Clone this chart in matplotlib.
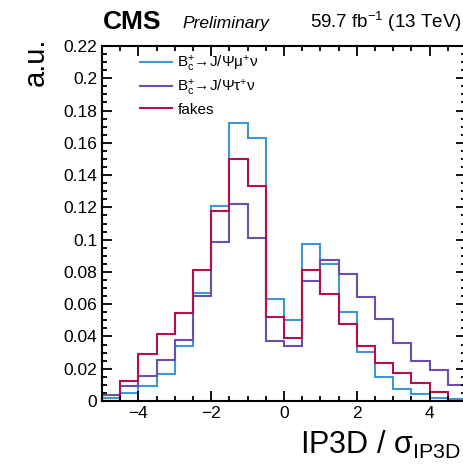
import numpy as np
import matplotlib
matplotlib.use('Agg')
import matplotlib.pyplot as plt
from matplotlib.ticker import MultipleLocator, FuncFormatter

plt.rcParams['font.family'] = ['Liberation Sans', 'DejaVu Sans']
plt.rcParams['mathtext.fontset'] = 'custom'
plt.rcParams['mathtext.rm'] = 'Liberation Sans'
plt.rcParams['mathtext.it'] = 'Liberation Sans:italic'
plt.rcParams['mathtext.bf'] = 'Liberation Sans:bold'

# bin edges of IP3D significance, 0.5 wide
bin_edges = np.arange(-5.0, 5.01, 0.5)

# normalised yields per bin
bc_mu = [0.002, 0.005, 0.009, 0.0165, 0.034, 0.067, 0.121, 0.172, 0.163, 0.063,
         0.050, 0.097, 0.085, 0.055, 0.0306, 0.0151, 0.0073, 0.0042, 0.002, 0.0012]
bc_tau = [0.004, 0.0093, 0.0157, 0.0254, 0.0378, 0.0653, 0.0988, 0.122, 0.101, 0.0374,
          0.0343, 0.0746, 0.0874, 0.079, 0.0643, 0.0508, 0.0359, 0.025, 0.019, 0.0097]
fakes = [0.0003, 0.0126, 0.0293, 0.0413, 0.0547, 0.081, 0.118, 0.150, 0.1335, 0.052,
         0.039, 0.081, 0.0665, 0.0475, 0.034, 0.0234, 0.0174, 0.0114, 0.0053, 0.0002]

labels = ['B$_{\\mathrm{c}}^{+}$→J/Ψμ$^{+}$ν',
          'B$_{\\mathrm{c}}^{+}$→J/Ψτ$^{+}$ν',
          'fakes']
colours = ['#3d97d3', '#6a50ac', '#b3104f']

fig = plt.figure(figsize=(4.63, 4.68), dpi=100)
ax = fig.add_axes([102 / 463, 67 / 468, 364 / 463, 355 / 468])

for values, lab, col in zip([bc_mu, bc_tau, fakes], labels, colours):
    ax.stairs(values, bin_edges, color=col, linewidth=1.5, label=lab)

ax.set_xlim(-5, 5)
ax.set_ylim(0, 0.22)
ax.xaxis.set_major_locator(MultipleLocator(2))
ax.xaxis.set_minor_locator(MultipleLocator(0.5))
ax.yaxis.set_major_locator(MultipleLocator(0.02))
ax.yaxis.set_minor_locator(MultipleLocator(0.005))
ax.tick_params(which='both', direction='in', top=True, right=True, width=1.3, labelsize=12.5)
ax.tick_params(which='major', length=7)
ax.tick_params(which='minor', length=3.5)
ax.yaxis.set_major_formatter(FuncFormatter(lambda v, p: '0' if v == 0 else f'{v:g}'))
ax.xaxis.set_major_formatter(FuncFormatter(lambda v, p: f'{v:g}'.replace('-', '\u2212')))
for s in ax.spines.values():
    s.set_linewidth(1.5)

ax.set_xlabel('IP3D / σ$_{\\mathrm{IP3D}}$', fontsize=22, loc='right')
ax.xaxis.set_label_coords((461 - 102) / 364, -0.078)
ax.set_ylabel('a.u.', fontsize=21, loc='top')
ax.yaxis.set_label_coords(-0.143, 1.025)

ax.legend(loc='upper left', bbox_to_anchor=(0.083, 1.0), frameon=False, fontsize=11,
          handlelength=2.1, handletextpad=0.35, labelspacing=0.3, borderpad=0)

fig.text(103 / 463, 1 - 29 / 468, 'CMS', fontsize=19, fontweight='bold')
fig.text(182 / 463, 1 - 28 / 468, 'Preliminary', fontsize=12.5, style='italic')
fig.text(462 / 463, 1 - 28 / 468, '59.7 fb$^{\\mathrm{-1}}$ (13 TeV)', fontsize=13.5, ha='right')

fig.savefig('out.png', dpi=100)
